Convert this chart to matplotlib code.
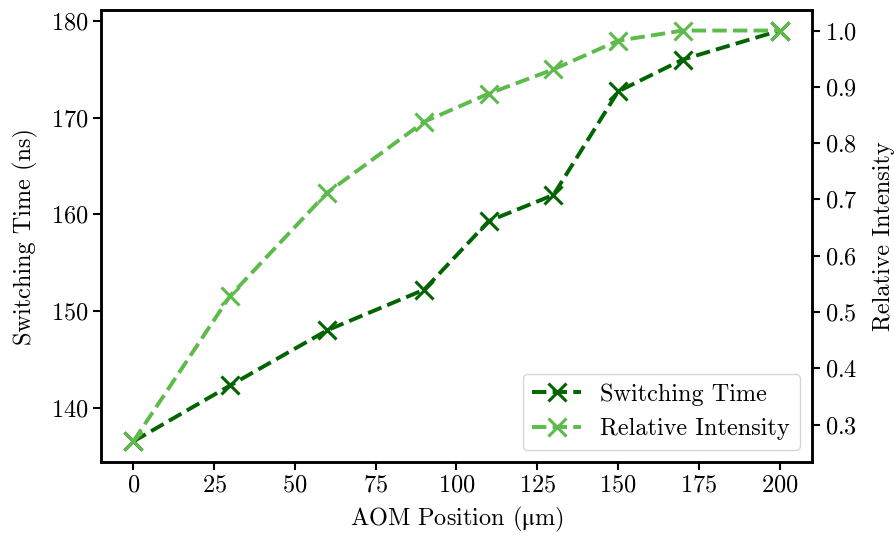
import numpy as np
from matplotlib import pyplot as plt

plt.rcParams["font.family"] = ["cmr10", "DejaVu Serif"]
plt.rcParams["mathtext.fontset"] = "stix"
plt.rcParams["axes.formatter.use_mathtext"] = True
plt.rcParams["font.size"] = 17.5

# Data
aom_position = [0, 30, 60, 90, 110, 130, 150, 170, 200]
switching_time = [136.5, 142.3, 148.0, 152.2, 159.3, 162.0, 172.7, 176.0, 179.0]
relative_intensity = [0.27, 0.529, 0.712, 0.838, 0.888, 0.931, 0.982, 1.0, 1.0]

dark_green = "#006400"
light_green = "#5dbb4b"

fig, ax = plt.subplots(figsize=(8.95, 5.35), dpi=100)
fig.subplots_adjust(left=0.1128, right=0.9073, top=0.9813, bottom=0.1364)

l1, = ax.plot(aom_position, switching_time, "--x", color=dark_green,
              lw=2.8, ms=13, mew=2.2, label="Switching Time")
ax.set_xlabel(r"AOM Position ($\mathrm{\mu}$m)", labelpad=6)
ax.set_ylabel("Switching Time (ns)", labelpad=9)

ax2 = ax.twinx()
l2, = ax2.plot(aom_position, relative_intensity, "--x", color=light_green,
               lw=2.8, ms=13, mew=2.2, label="Relative Intensity")
ax2.set_ylabel("Relative Intensity", labelpad=11)

ax.set_xticks(np.arange(0, 201, 25))
for a in (ax, ax2):
    for s in a.spines.values():
        s.set_linewidth(1.8)
    a.tick_params(width=1.5, length=5.5, labelsize=17.5)

ax2.legend(handles=[l1, l2], loc="lower right", fontsize=17.5)

fig.savefig("out.png", dpi=100)
